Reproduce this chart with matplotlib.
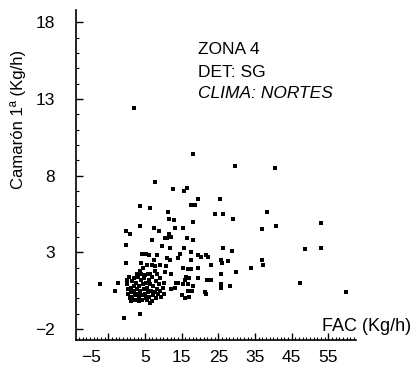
import matplotlib
matplotlib.use("Agg")
import matplotlib.pyplot as plt
import matplotlib.transforms as mtransforms
from matplotlib.ticker import MultipleLocator, FixedLocator

plt.rcParams['font.family'] = ['Liberation Sans', 'DejaVu Sans']

# FAC (Kg/h) vs Camaron 1a (Kg/h)
fac = [
    2.0, 18.1, 29.5, 40.5, 7.6, 12.7, 15.7, 16.4, 19.5, 25.5,
    3.6, 6.3, 17.6, 18.6, 24.0, 26.2, 11.2, 11.6, 12.8, 38.3,
    29.1, 18.2, 3.6, 13.1, 15.4, 7.4, 8.7, -0.3, 1.0, 37.0,
    40.6, 53.0, 11.5, 12.1, 6.9, 10.5, 11.0, 16.4, 18.2, -0.3,
    9.6, 11.9, 15.7, 26.4, 28.7, 48.5, 53.0, 5.2, 4.3, 6.1,
    14.5, 17.6, 19.4, 20.3, 21.7, 22.1, 8.3, 10.9, 14.1, 11.9,
    -0.3, 4.0, 5.5, 7.4, 7.0, 9.2, 17.6, 25.8, 26.0, 27.6,
    37.0, 37.2, 23.1, 34.0, 4.5, 3.7, 7.8, 7.8, 10.7, 15.5,
    16.6, 17.6, 19.5, 29.8, 25.8, 10.5, 12.1, 8.3, 6.3, 4.9,
    16.1, 17.0, 15.9, 21.9, 23.0, 19.4, 0.2, -2.3, -7.2, 47.2,
    25.8, 25.8, 28.3, 13.4, 14.1, 10.3, 15.5, 16.7, 18.1, -3.1,
    59.8, 21.3, 21.7, 13.1, 12.1, 17.9, 16.6, 15.2, 15.9, 17.0,
    6.4, 3.6, -0.6,
    # dense cluster near the origin
    0.0, 0.5, 0.3, 0.8, 1.1, 1.3, 1.5, 1.6, 1.9, 2.1,
    2.3, 2.4, 2.6, 2.8, 3.0, 3.1, 3.3, 3.5, 3.7, 3.9,
    4.1, 4.2, 4.4, 4.6, 4.8, 5.0, 5.2, 5.3, 5.6, 5.8,
    6.0, 6.2, 6.5, 6.7, 6.9, 7.1, 7.3, 7.6, 7.9, 8.1,
    8.3, 8.6, 8.9, 9.2, 9.5, 9.8, 10.1, 0.6, 2.0, 3.4,
    5.5, 6.8, 1.2, 9.0, 2.7, 4.0, 5.9,
]
camaron = [
    12.4, 9.4, 8.6, 8.5, 7.6, 7.1, 7.0, 7.2, 6.5, 6.5,
    6.0, 5.9, 6.1, 6.1, 5.5, 5.5, 5.6, 5.2, 5.1, 5.6,
    5.2, 5.0, 4.7, 4.6, 4.6, 4.6, 4.4, 4.4, 4.2, 4.5,
    4.7, 4.9, 4.2, 4.0, 3.8, 3.9, 3.9, 3.9, 3.8, 3.5,
    3.4, 3.3, 3.3, 3.3, 3.1, 3.2, 3.3, 2.9, 2.9, 2.8,
    2.9, 3.0, 2.8, 2.7, 2.8, 2.7, 2.8, 2.6, 2.6, 2.5,
    2.3, 2.3, 2.2, 2.5, 2.2, 2.2, 2.5, 2.5, 2.3, 2.4,
    2.5, 2.2, 2.2, 2.0, 2.0, 1.8, 2.1, 1.8, 2.1, 2.0,
    1.9, 1.9, 2.0, 1.7, 1.6, 1.7, 1.6, 1.6, 1.6, 1.5,
    1.4, 1.3, 1.2, 1.2, 1.2, 1.3, 1.2, 1.0, 0.9, 1.0,
    0.9, 0.7, 0.8, 1.0, 1.0, 1.0, 0.9, 0.9, 0.8, 0.5,
    0.4, 0.4, 0.3, 0.7, 0.6, 0.5, 0.5, 0.2, 0.0, 0.1,
    -0.3, -1.0, -1.3,
    0.9, 0.6, 0.3, 0.0, 0.7, 0.4, 0.1, 1.1, 0.8, 0.5,
    0.2, -0.1, 1.0, 0.6, 0.3, 1.4, 0.0, 0.8, 0.5, 1.2,
    0.2, -0.1, 0.9, 0.6, 1.3, 0.3, 0.0, 1.0, 0.7, 0.4,
    1.2, 0.1, 0.9, 0.5, 1.4, 0.2, 0.8, 0.4, 1.1, 0.0,
    0.6, 0.3, 0.9, 0.5, 0.1, 0.7, 0.3, 1.4, 1.3, -0.2,
    -0.1, -0.2, -0.2, 1.3, 1.6, 1.6, 1.6,
]

x_ticks = [-5, 5, 15, 25, 35, 45, 55]
y_ticks = [-2, 3, 8, 13, 18]

fig = plt.figure(figsize=(4.14, 3.67), dpi=100)
ax = fig.add_axes([0.1836, 0.0736, 0.676, 0.899])

ax.scatter(fac, camaron, s=6, marker='s', color='black', linewidths=0)

ax.set_xlim(-13.8, 62.5)
ax.set_ylim(-2.72, 18.8)

ax.spines['top'].set_visible(False)
ax.spines['right'].set_visible(False)
ax.spines['left'].set_linewidth(1.2)
ax.spines['bottom'].set_linewidth(1.2)

ax.xaxis.set_major_locator(FixedLocator(x_ticks))
ax.xaxis.set_minor_locator(MultipleLocator(1))
ax.yaxis.set_major_locator(FixedLocator(y_ticks))
ax.yaxis.set_minor_locator(MultipleLocator(1))
ax.tick_params(axis='both', which='major', direction='in', length=5, width=1,
               labelsize=12.5)
ax.tick_params(axis='both', which='minor', direction='in', length=2.5, width=0.8)
ax.tick_params(axis='y', which='major', pad=15)
ax.tick_params(axis='x', which='major', pad=7)

# the "-5" label sits further left in the original scan
shift = mtransforms.ScaledTranslation(-17 / 100, 0, fig.dpi_scale_trans)
lbl = ax.get_xticklabels()[0]
lbl.set_transform(lbl.get_transform() + shift)

ax.set_ylabel('Camarón 1ª (Kg/h)', fontsize=12)
ax.yaxis.set_label_coords(-0.18, 0.667)
fig.text(0.778, 0.109, 'FAC (Kg/h)', fontsize=13, va='center', ha='left')

ax.text(0.436, 0.879, 'ZONA 4', transform=ax.transAxes, fontsize=12.5, va='center')
ax.text(0.436, 0.812, 'DET: SG', transform=ax.transAxes, fontsize=12.5, va='center')
ax.text(0.436, 0.748, 'CLIMA: NORTES', transform=ax.transAxes, fontsize=12.5,
        va='center', style='italic')

fig.savefig('out.png', dpi=100)
